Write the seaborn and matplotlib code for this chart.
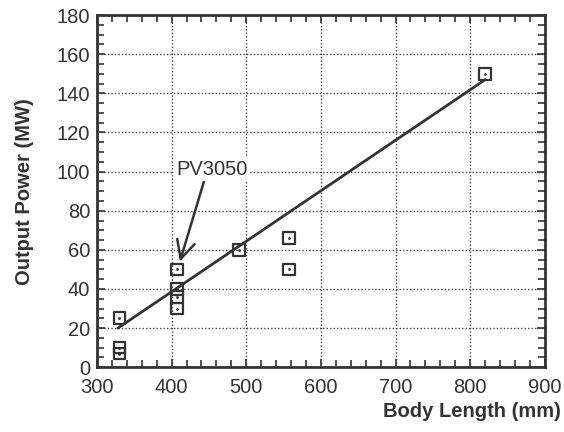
import matplotlib
matplotlib.use("Agg")
import matplotlib.pyplot as plt
import seaborn as sns
import pandas as pd
from matplotlib.ticker import MultipleLocator

body_length = [330, 330, 330, 407, 407, 407, 407, 490, 557, 557, 820]
output_power = [25, 10, 7, 50, 40, 36, 30, 60, 66, 50, 150]
fit_x = [328, 820]
fit_y = [20, 147]
x_ticks = [300, 400, 500, 600, 700, 800, 900]
y_ticks = [0, 20, 40, 60, 80, 100, 120, 140, 160, 180]
annotation_text = "PV3050"

df = pd.DataFrame({"Body Length (mm)": body_length, "Output Power (MW)": output_power})
fit = pd.DataFrame({"x": fit_x, "y": fit_y})

sns.set_theme(style="ticks")
plt.rcParams["font.family"] = ["Liberation Sans", "DejaVu Sans"]

fig = plt.figure(figsize=(5.64, 4.32), dpi=100)
ax = fig.add_axes([0.172, 0.150, 0.794, 0.815])

sns.lineplot(data=fit, x="x", y="y", ax=ax, color="#333333", linewidth=2.0)
sns.scatterplot(data=df, x="Body Length (mm)", y="Output Power (MW)", ax=ax,
                marker="s", s=70, facecolor="none", edgecolor="#333333", linewidth=1.6)
sns.scatterplot(data=df, x="Body Length (mm)", y="Output Power (MW)", ax=ax,
                marker="o", s=4, color="#333333", linewidth=0)

ax.set_xlim(x_ticks[0], x_ticks[-1])
ax.set_ylim(y_ticks[0], y_ticks[-1])
ax.set_xticks(x_ticks)
ax.set_yticks(y_ticks)
ax.xaxis.set_minor_locator(MultipleLocator(20))
ax.yaxis.set_minor_locator(MultipleLocator(5))
ax.tick_params(which="both", direction="in", top=True, right=True, color="#333333")
ax.tick_params(which="major", length=6, width=1.2, labelsize=14.5, colors="#333333", pad=5)
ax.tick_params(axis="x", which="major", pad=8)
ax.tick_params(which="minor", length=5, width=1.2)
ax.grid(True, which="major", linestyle=(0, (1, 1.5)), color="#444444", linewidth=1.0)
for sp in ax.spines.values():
    sp.set_linewidth(2.0)
    sp.set_color("#333333")

ax.set_xlabel("Body Length (mm)", fontsize=14.5, fontweight="bold", color="#333333")
ax.xaxis.set_label_coords(1.035, -0.1)
ax.xaxis.label.set_horizontalalignment("right")
ax.set_ylabel("Output Power (MW)", fontsize=14.5, fontweight="bold", color="#333333")
ax.yaxis.set_label_coords(-0.14, 0.5)

ax.annotate(annotation_text, xy=(411, 54), xytext=(406, 101), fontsize=14.5, color="#333333",
            va="center", ha="left",
            bbox=dict(boxstyle="square,pad=0.1", fc="white", ec="none"),
            arrowprops=dict(arrowstyle="->,head_length=0.9,head_width=0.45", color="#333333",
                            lw=1.8, shrinkA=0, shrinkB=0, relpos=(0.4, 0.0)))

fig.savefig("out.png", dpi=100)
